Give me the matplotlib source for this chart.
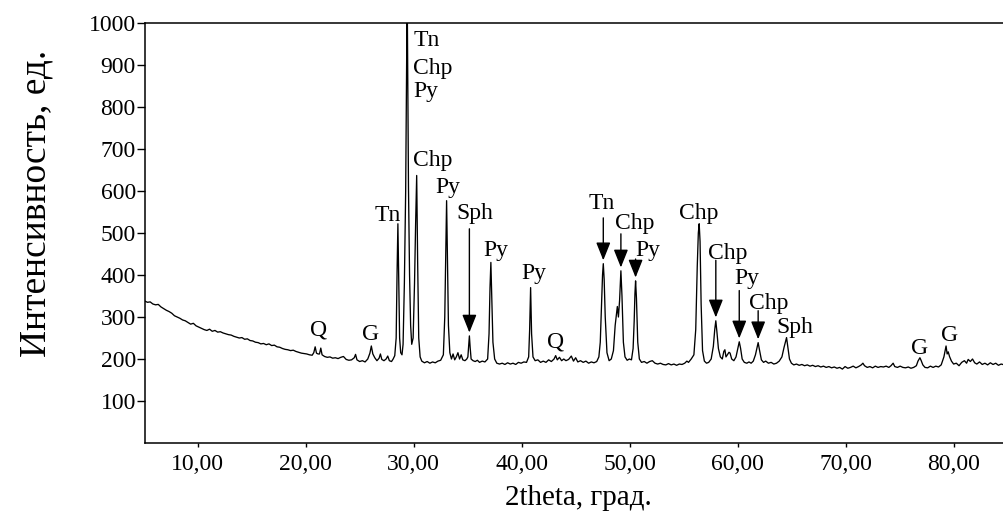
"""XRD pattern of the ore sample with phase labels (Tn, Chp, Py, Sph, G, Q)."""

import matplotlib

matplotlib.use("Agg")
import matplotlib.pyplot as plt
import numpy as np
from matplotlib.ticker import FuncFormatter

# measured scan: (2theta, counts)
scan = [
    (5.10, 338), (5.35, 335), (5.60, 336), (5.85, 331), (6.10, 329), (6.35, 330),
    (6.60, 324), (6.85, 320), (7.10, 316), (7.35, 313), (7.60, 309), (7.85, 303),
    (8.10, 300), (8.35, 297), (8.60, 293), (8.85, 291), (9.10, 287), (9.35, 283),
    (9.60, 285), (9.85, 279), (10.10, 276), (10.35, 273), (10.60, 270), (10.85, 268),
    (11.10, 271), (11.35, 266), (11.60, 268), (11.85, 264), (12.10, 265), (12.35, 262),
    (12.60, 260), (12.85, 258), (13.10, 257), (13.35, 254), (13.60, 252), (13.85, 250),
    (14.10, 251), (14.35, 247), (14.60, 248), (14.85, 244), (15.10, 243), (15.35, 240),
    (15.60, 239), (15.85, 236), (16.10, 237), (16.35, 234), (16.60, 236), (16.85, 232),
    (17.10, 233), (17.35, 229), (17.60, 228), (17.85, 225), (18.10, 223), (18.35, 222),
    (18.60, 220), (18.85, 221), (19.10, 218), (19.35, 216), (19.60, 214), (19.85, 213),
    (20.10, 212), (20.35, 210), (20.60, 209), (20.75, 215), (20.88, 229), (21.00, 214),
    (21.15, 212), (21.28, 212), (21.40, 226), (21.52, 210), (21.75, 206), (22.00, 204),
    (22.25, 205), (22.50, 202), (22.75, 203), (23.00, 201), (23.25, 204), (23.50, 206),
    (23.75, 199), (24.00, 197), (24.25, 198), (24.50, 203), (24.62, 211), (24.75, 198),
    (25.00, 194), (25.25, 196), (25.50, 193), (25.75, 200), (25.95, 214), (26.08, 231),
    (26.22, 212), (26.40, 203), (26.60, 196), (26.80, 202), (26.92, 212), (27.05, 199),
    (27.25, 196), (27.45, 200), (27.60, 207), (27.75, 196), (27.95, 194), (28.10, 200),
    (28.25, 208), (28.38, 250), (28.46, 400), (28.54, 522), (28.62, 380), (28.70, 250),
    (28.80, 215), (28.92, 210), (29.02, 235), (29.14, 380), (29.26, 600), (29.40, 1080),
    (29.52, 610), (29.62, 400), (29.72, 280), (29.82, 235), (29.95, 250), (30.08, 380),
    (30.18, 520), (30.28, 637), (30.37, 430), (30.47, 250), (30.60, 205), (30.75, 195),
    (31.00, 191), (31.25, 194), (31.50, 190), (31.75, 193), (32.00, 191), (32.25, 195),
    (32.50, 197), (32.75, 210), (32.88, 300), (32.97, 450), (33.05, 577), (33.13, 430),
    (33.22, 280), (33.35, 215), (33.50, 200), (33.65, 212), (33.80, 198), (33.95, 205),
    (34.10, 215), (34.25, 200), (34.40, 210), (34.55, 198), (34.75, 196), (34.92, 200),
    (35.02, 205), (35.09, 230), (35.16, 255), (35.23, 228), (35.32, 200), (35.50, 196),
    (35.70, 194), (35.90, 197), (36.10, 192), (36.35, 195), (36.60, 193), (36.85, 200),
    (36.98, 260), (37.07, 370), (37.15, 430), (37.24, 340), (37.34, 240), (37.50, 200),
    (37.70, 190), (37.95, 188), (38.20, 190), (38.45, 187), (38.70, 191), (38.95, 188),
    (39.20, 190), (39.45, 187), (39.70, 192), (39.95, 190), (40.20, 193), (40.45, 192),
    (40.65, 205), (40.74, 270), (40.83, 370), (40.92, 260), (41.05, 205), (41.25, 196),
    (41.50, 198), (41.75, 192), (42.00, 195), (42.25, 192), (42.50, 198), (42.75, 194),
    (43.00, 200), (43.15, 208), (43.30, 198), (43.50, 204), (43.70, 196), (43.90, 200),
    (44.10, 196), (44.35, 199), (44.60, 207), (44.80, 195), (45.00, 203), (45.20, 193),
    (45.45, 196), (45.70, 192), (45.95, 195), (46.20, 190), (46.45, 193), (46.70, 191),
    (46.95, 194), (47.15, 205), (47.28, 240), (47.40, 330), (47.49, 400), (47.56, 427),
    (47.64, 390), (47.74, 300), (47.90, 215), (48.10, 196), (48.30, 200), (48.50, 220),
    (48.66, 280), (48.86, 325), (48.96, 300), (49.07, 340), (49.19, 410), (49.29, 350),
    (49.42, 240), (49.57, 205), (49.77, 197), (49.97, 200), (50.17, 198), (50.32, 225),
    (50.42, 290), (50.49, 355), (50.55, 386), (50.63, 345), (50.75, 240), (50.90, 200),
    (51.10, 192), (51.35, 194), (51.60, 190), (51.85, 194), (52.10, 196), (52.35, 190),
    (52.60, 188), (52.85, 190), (53.10, 187), (53.35, 186), (53.60, 189), (53.85, 186),
    (54.10, 188), (54.35, 185), (54.60, 188), (54.85, 187), (55.10, 190), (55.30, 195),
    (55.45, 192), (55.70, 200), (55.95, 210), (56.12, 270), (56.26, 420), (56.36, 500),
    (56.44, 522), (56.52, 480), (56.62, 330), (56.75, 220), (56.92, 195), (57.12, 190),
    (57.32, 192), (57.55, 200), (57.75, 230), (57.88, 270), (57.98, 291), (58.08, 265),
    (58.22, 225), (58.40, 205), (58.58, 200), (58.72, 218), (58.82, 222), (58.92, 205),
    (59.05, 210), (59.20, 216), (59.30, 214), (59.45, 200), (59.65, 196), (59.85, 205),
    (60.02, 225), (60.15, 241), (60.27, 226), (60.42, 200), (60.62, 192), (60.85, 190),
    (61.05, 193), (61.25, 190), (61.45, 195), (61.65, 210), (61.78, 225), (61.90, 239),
    (62.02, 222), (62.20, 198), (62.40, 192), (62.60, 195), (62.85, 190), (63.10, 192),
    (63.35, 188), (63.60, 190), (63.85, 195), (64.10, 205), (64.30, 228), (64.53, 251),
    (64.65, 228), (64.80, 200), (64.98, 190), (65.20, 186), (65.45, 188), (65.70, 185),
    (65.95, 187), (66.20, 184), (66.45, 186), (66.70, 183), (66.95, 185), (67.20, 182),
    (67.45, 184), (67.70, 181), (67.95, 183), (68.20, 180), (68.45, 182), (68.70, 179),
    (68.95, 181), (69.20, 178), (69.45, 180), (69.70, 176), (69.95, 182), (70.20, 178),
    (70.45, 180), (70.70, 183), (70.95, 179), (71.20, 182), (71.45, 186), (71.60, 190),
    (71.75, 184), (72.00, 180), (72.25, 182), (72.50, 179), (72.75, 183), (73.00, 180),
    (73.25, 182), (73.50, 181), (73.75, 183), (74.00, 180), (74.20, 184), (74.40, 190),
    (74.55, 182), (74.80, 180), (75.05, 183), (75.30, 180), (75.55, 179), (75.80, 181),
    (76.05, 178), (76.30, 180), (76.55, 184), (76.70, 195), (76.88, 203), (77.00, 196),
    (77.15, 186), (77.35, 180), (77.60, 179), (77.85, 183), (78.10, 180), (78.35, 183),
    (78.60, 181), (78.85, 186), (79.10, 205), (79.30, 231), (79.40, 212), (79.50, 217),
    (79.62, 206), (79.80, 195), (80.00, 188), (80.25, 190), (80.50, 184), (80.75, 192),
    (81.00, 196), (81.20, 190), (81.35, 199), (81.55, 194), (81.75, 200), (81.95, 191),
    (82.15, 188), (82.40, 193), (82.65, 187), (82.90, 190), (83.15, 186), (83.40, 191),
    (83.65, 187), (83.90, 190), (84.15, 185), (84.40, 188), (84.70, 186), (85.00, 189),
    (85.40, 187),
]

# phase labels: text, 2theta, baseline height, alignment
labels = [
    ("Q", 21.15, 255, "center"),
    ("G", 26.05, 246, "center"),
    ("Tn", 27.55, 529, "center"),
    ("Tn", 29.98, 946, "left"),
    ("Chp", 29.98, 879, "left"),
    ("Py", 29.98, 824, "left"),
    ("Chp", 29.93, 660, "left"),
    ("Py", 33.13, 596, "center"),
    ("Sph", 35.68, 534, "center"),
    ("Py", 37.60, 446, "center"),
    ("Py", 41.10, 391, "center"),
    ("Q", 43.14, 227, "center"),
    ("Tn", 47.40, 558, "center"),
    ("Chp", 50.50, 510, "center"),
    ("Py", 51.70, 446, "center"),
    ("Chp", 56.40, 534, "center"),
    ("Chp", 59.10, 439, "center"),
    ("Py", 60.86, 379, "center"),
    ("Chp", 62.85, 320, "center"),
    ("Sph", 65.30, 263, "center"),
    ("G", 76.83, 213, "center"),
    ("G", 79.60, 244, "center"),
]

# pointer arrows: 2theta, start height, tip height
arrows = [
    (35.16, 510, 263),
    (47.56, 536, 435),
    (49.19, 498, 418),
    (50.55, 438, 394),
    (57.98, 435, 299),
    (60.15, 363, 249),
    (61.90, 315, 247),
]

y_ticks = list(range(100, 1001, 100))
x_ticks = list(range(10, 81, 10))

plt.rcParams["font.family"] = ["Liberation Serif", "DejaVu Serif"]

two_theta, counts = np.array(scan, dtype=float).T

fig = plt.figure(figsize=(10.04, 5.15), dpi=100)
ax = fig.add_axes([0.1444, 0.1398, 0.8635, 0.8155])

ax.plot(two_theta, counts, color="black", lw=0.95)

for text, x, y, ha in labels:
    ax.text(x, y, text, ha=ha, va="baseline", fontsize=17, color="black")

for x, y0, y1 in arrows:
    ax.annotate(
        "", xy=(x, y1), xytext=(x, y0),
        arrowprops=dict(arrowstyle="-|>,head_length=1.0,head_width=0.4",
                        color="black", lw=1.0, shrinkA=0, shrinkB=0,
                        mutation_scale=11),
    )

ax.set_xlim(5.12, 85.4)
ax.set_ylim(0, 1000)
ax.set_yticks(y_ticks)
ax.set_xticks(x_ticks)
ax.xaxis.set_major_formatter(FuncFormatter(lambda v, _: f"{v:.2f}".replace(".", ",")))

ax.tick_params(axis="y", direction="out", length=5.8, width=1.0, pad=0.8, labelsize=17)
ax.tick_params(axis="x", direction="out", length=3.0, width=1.0, pad=4.6, labelsize=17)
for side in ("left", "bottom", "top", "right"):
    ax.spines[side].set_linewidth(1.1)

ax.set_xlabel("2theta, град.", fontsize=21)
ax.set_ylabel("Интенсивность, ед.", fontsize=27)
ax.xaxis.set_label_coords(0.5, -0.1)
ax.yaxis.set_label_coords(-0.106, 0.571)

fig.savefig("out.png", dpi=100)
plt.close(fig)
